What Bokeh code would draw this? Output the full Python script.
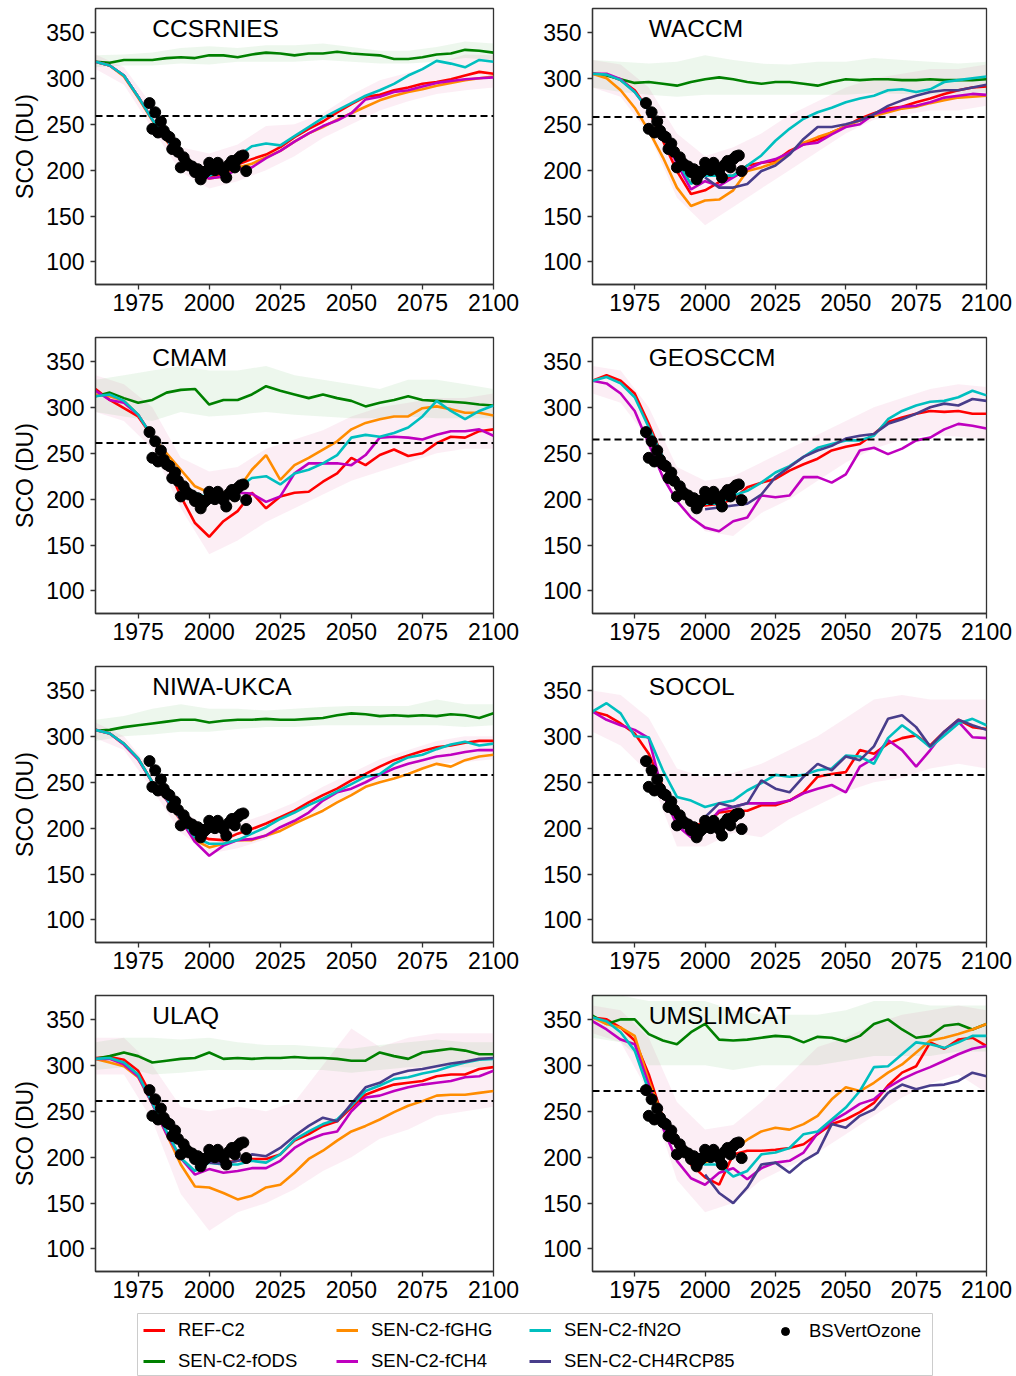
from bokeh.plotting import figure
from bokeh.models import Range1d, Span, Label, FixedTicker, Legend, LegendItem
from bokeh.layouts import column, row
from bokeh.embed import file_html
from bokeh.resources import INLINE

FONT = "Liberation Sans"

# ---------------- data ----------------
years = list(range(1960, 2101, 5))
years_rcp = list(range(2000, 2101, 5))
years_band = list(range(1960, 2101, 10))
x_ticks = [1975, 2000, 2025, 2050, 2075, 2100]
y_ticks = [100, 150, 200, 250, 300, 350]

series_names = ["REF-C2", "SEN-C2-fODS", "SEN-C2-fGHG", "SEN-C2-fCH4", "SEN-C2-fN2O", "SEN-C2-CH4RCP85"]
obs_name = "BSVertOzone"

models = ["CCSRNIES", "WACCM", "CMAM", "GEOSCCM", "NIWA-UKCA", "SOCOL", "ULAQ", "UMSLIMCAT"]
threshold_1980 = [259, 258, 261, 265, 258, 258, 261, 272]

obs_years = list(range(1979, 2014))
obs_sco = [273, 245, 263, 241, 253, 243, 238, 236, 223, 229, 220, 203, 214, 208, 205, 204, 198, 201,
           190, 196, 199, 208, 203, 200, 208, 203, 199, 192, 206, 210, 203, 212, 215, 216, 199]

ccsrnies_ref = [318, 314, 303, 280, 255, 234, 212, 197, 193, 195, 206, 212, 217, 225, 236, 245, 253, 263, 272, 280, 282, 287, 290, 294, 296, 299, 303, 307, 305]
ccsrnies_fods = [318, 317, 320, 320, 320, 322, 323, 322, 325, 325, 323, 326, 328, 327, 325, 327, 327, 329, 327, 326, 325, 321, 321, 323, 326, 327, 331, 330, 328]
ccsrnies_fghg = [318, 314, 302, 279, 254, 232, 211, 196, 191, 193, 203, 207, 214, 221, 231, 240, 247, 255, 262, 269, 276, 281, 285, 288, 292, 295, 298, 300, 302]
ccsrnies_fch4 = [318, 314, 303, 280, 255, 233, 211, 196, 191, 193, 201, 203, 213, 221, 231, 240, 248, 254, 262, 277, 280, 285, 287, 291, 295, 297, 299, 300, 301]
ccsrnies_fn2o = [318, 314, 303, 280, 255, 234, 212, 198, 194, 199, 215, 226, 229, 227, 237, 247, 257, 265, 273, 281, 287, 294, 303, 310, 319, 316, 312, 320, 318]
ccsrnies_band_lo = [310, 293, 245, 198, 180, 188, 200, 215, 235, 250, 265, 275, 283, 287, 290]
ccsrnies_band_hi = [326, 312, 270, 225, 218, 228, 248, 250, 262, 282, 298, 306, 316, 326, 325]
ccsrnies_fods_lo = [312, 314, 314, 316, 315, 318, 318, 318, 320, 318, 316, 316, 318, 322, 320]
ccsrnies_fods_hi = [325, 326, 328, 333, 335, 333, 336, 336, 338, 334, 330, 330, 334, 340, 338]

waccm_ref = [305, 304, 298, 287, 265, 232, 199, 174, 178, 187, 194, 205, 208, 210, 221, 228, 233, 241, 248, 256, 262, 267, 269, 274, 278, 283, 287, 290, 291]
waccm_fods = [305, 303, 299, 295, 296, 294, 292, 296, 299, 301, 299, 296, 294, 296, 296, 294, 292, 296, 299, 298, 299, 299, 298, 298, 299, 298, 298, 298, 299]
waccm_fghg = [305, 300, 287, 268, 243, 214, 181, 161, 167, 168, 178, 199, 203, 208, 219, 230, 236, 241, 248, 254, 259, 263, 267, 269, 273, 276, 279, 280, 281]
waccm_fch4 = [305, 305, 299, 285, 265, 239, 207, 179, 188, 183, 192, 201, 208, 212, 219, 228, 230, 239, 247, 250, 261, 265, 269, 270, 274, 279, 281, 283, 282]
waccm_fn2o = [305, 304, 298, 285, 265, 239, 210, 185, 194, 194, 194, 205, 216, 232, 245, 256, 263, 268, 274, 278, 281, 287, 288, 285, 288, 296, 298, 300, 302]
waccm_rcp = [192, 181, 181, 185, 199, 205, 217, 234, 247, 247, 250, 254, 261, 270, 276, 281, 285, 287, 287, 290, 293]
waccm_band_lo = [290, 280, 240, 170, 140, 160, 180, 200, 220, 240, 255, 260, 265, 265, 270]
waccm_band_hi = [320, 315, 290, 240, 215, 225, 240, 260, 275, 290, 300, 305, 310, 310, 315]
waccm_fods_lo = [290, 285, 282, 280, 282, 282, 282, 282, 282, 282, 284, 283, 282, 283, 285]
waccm_fods_hi = [320, 318, 316, 318, 325, 320, 316, 315, 318, 318, 322, 320, 318, 316, 318]

cmam_ref = [320, 308, 299, 290, 268, 239, 203, 174, 159, 176, 187, 207, 190, 203, 207, 208, 219, 228, 245, 237, 248, 254, 247, 250, 261, 268, 267, 274, 276]
cmam_fods = [312, 316, 310, 305, 308, 316, 319, 320, 303, 308, 308, 314, 323, 318, 314, 310, 314, 310, 307, 301, 305, 308, 312, 308, 307, 306, 305, 303, 302]
cmam_fghg = [314, 312, 307, 292, 268, 250, 232, 214, 207, 207, 210, 232, 248, 221, 237, 245, 254, 263, 276, 283, 287, 290, 290, 299, 301, 298, 294, 294, 291]
cmam_fch4 = [318, 308, 305, 292, 268, 239, 214, 205, 199, 199, 207, 206, 197, 203, 228, 239, 239, 239, 237, 248, 267, 268, 267, 265, 270, 274, 274, 276, 269]
cmam_fn2o = [312, 314, 307, 292, 268, 239, 217, 207, 201, 205, 212, 223, 225, 216, 228, 232, 239, 248, 267, 270, 268, 272, 278, 290, 307, 296, 287, 296, 302]
cmam_band_lo = [295, 285, 255, 190, 140, 155, 175, 190, 205, 220, 230, 240, 250, 255, 255]
cmam_band_hi = [335, 325, 300, 245, 230, 235, 255, 265, 275, 290, 300, 305, 310, 310, 315]
cmam_fods_lo = [295, 290, 285, 295, 290, 292, 295, 292, 290, 288, 288, 290, 288, 288, 288]
cmam_fods_hi = [330, 335, 340, 345, 340, 340, 345, 335, 330, 325, 320, 330, 330, 325, 320]

geosccm_ref = [329, 335, 329, 315, 282, 246, 216, 202, 193, 195, 200, 213, 218, 222, 231, 238, 244, 253, 257, 260, 271, 284, 289, 293, 296, 295, 296, 293, 293]
geosccm_fch4 = [329, 326, 315, 296, 260, 224, 198, 180, 169, 165, 176, 180, 204, 202, 204, 224, 224, 218, 227, 253, 256, 249, 255, 264, 267, 276, 282, 280, 277]
geosccm_fn2o = [329, 333, 326, 311, 278, 246, 220, 202, 195, 195, 204, 209, 218, 229, 236, 246, 256, 260, 264, 264, 269, 287, 296, 302, 306, 307, 311, 318, 313]
geosccm_rcp = [189, 191, 193, 195, 205, 224, 235, 246, 253, 258, 266, 269, 271, 282, 287, 293, 300, 304, 302, 309, 307]
geosccm_band_lo = [315, 305, 265, 195, 165, 160, 185, 200, 220, 240, 255, 265, 270, 268, 265]
geosccm_band_hi = [345, 340, 300, 235, 220, 225, 240, 255, 270, 285, 300, 310, 320, 325, 322]

niwa_ref = [307, 303, 292, 276, 250, 232, 210, 194, 188, 187, 194, 199, 205, 212, 219, 228, 236, 243, 252, 259, 267, 274, 279, 284, 288, 290, 293, 295, 295]
niwa_fods = [306, 307, 310, 312, 314, 316, 318, 318, 315, 317, 318, 318, 319, 318, 318, 319, 320, 323, 325, 324, 322, 323, 322, 323, 322, 324, 323, 320, 325]
niwa_fghg = [307, 303, 291, 275, 250, 231, 208, 187, 179, 183, 187, 187, 192, 197, 205, 212, 219, 228, 236, 245, 250, 254, 259, 265, 270, 267, 274, 278, 280]
niwa_fch4 = [307, 303, 291, 275, 250, 231, 209, 185, 170, 181, 187, 188, 192, 201, 208, 217, 230, 239, 243, 250, 258, 265, 270, 274, 278, 280, 283, 285, 285]
niwa_fn2o = [307, 303, 292, 276, 250, 232, 210, 190, 183, 183, 187, 194, 201, 210, 217, 225, 232, 240, 248, 256, 259, 270, 277, 280, 286, 291, 294, 290, 292]
niwa_band_lo = [298, 285, 242, 195, 172, 178, 188, 205, 222, 238, 252, 262, 270, 272, 275]
niwa_band_hi = [315, 300, 262, 220, 200, 205, 215, 228, 245, 260, 275, 285, 295, 300, 300]
niwa_fods_lo = [295, 300, 302, 305, 305, 308, 310, 310, 312, 312, 312, 312, 312, 310, 312]
niwa_fods_hi = [318, 322, 330, 335, 330, 330, 328, 330, 332, 333, 333, 333, 340, 335, 335]

socol_ref = [327, 323, 314, 303, 281, 245, 212, 203, 205, 217, 219, 219, 225, 225, 230, 239, 256, 259, 261, 285, 281, 292, 298, 301, 290, 305, 318, 310, 308]
socol_fch4 = [327, 318, 312, 307, 298, 238, 203, 190, 201, 219, 223, 227, 227, 227, 230, 238, 243, 247, 239, 267, 276, 296, 285, 267, 285, 305, 316, 299, 298]
socol_fn2o = [327, 336, 325, 300, 299, 263, 234, 230, 223, 227, 230, 241, 249, 258, 256, 258, 263, 265, 279, 278, 270, 298, 312, 301, 288, 301, 314, 319, 312]
socol_rcp = [212, 227, 223, 227, 252, 243, 239, 256, 270, 263, 278, 274, 289, 319, 323, 310, 289, 305, 318, 312, 307]
socol_band_lo = [305, 290, 260, 180, 180, 195, 190, 210, 225, 240, 250, 255, 265, 270, 265]
socol_band_hi = [350, 345, 320, 265, 255, 260, 270, 285, 300, 320, 340, 345, 340, 340, 340]

ulaq_ref = [308, 309, 306, 294, 265, 236, 214, 196, 196, 194, 196, 198, 198, 203, 218, 225, 234, 239, 254, 268, 274, 279, 281, 283, 288, 290, 290, 296, 298]
ulaq_fods = [307, 310, 314, 310, 303, 305, 307, 308, 314, 307, 308, 307, 308, 308, 309, 308, 308, 307, 305, 305, 314, 310, 307, 314, 316, 318, 316, 312, 312]
ulaq_fghg = [307, 303, 299, 287, 258, 225, 192, 168, 167, 161, 154, 158, 167, 170, 183, 198, 207, 218, 228, 234, 241, 249, 256, 261, 267, 268, 268, 270, 272]
ulaq_fch4 = [307, 307, 301, 288, 258, 225, 199, 181, 187, 183, 185, 188, 188, 196, 210, 219, 225, 228, 250, 265, 267, 272, 276, 279, 281, 283, 287, 288, 294]
ulaq_fn2o = [307, 308, 303, 290, 259, 228, 199, 185, 194, 192, 192, 196, 194, 203, 219, 228, 236, 241, 256, 272, 278, 285, 287, 291, 294, 299, 303, 306, 307]
ulaq_rcp = [194, 193, 196, 203, 201, 210, 223, 234, 243, 239, 258, 276, 281, 290, 294, 296, 299, 302, 304, 307, 308]
ulaq_band_lo = [290, 290, 240, 160, 120, 140, 150, 165, 185, 200, 220, 230, 245, 250, 255]
ulaq_band_hi = [330, 330, 300, 255, 250, 255, 250, 260, 300, 340, 320, 330, 335, 335, 335]
ulaq_fods_lo = [295, 298, 290, 292, 295, 295, 295, 295, 295, 292, 295, 298, 298, 298, 298]
ulaq_fods_hi = [325, 330, 330, 328, 330, 325, 322, 322, 320, 318, 322, 325, 328, 325, 325]

umslimcat_ref = [352, 350, 341, 327, 290, 243, 214, 192, 178, 170, 203, 207, 207, 208, 210, 214, 225, 236, 241, 249, 259, 278, 292, 299, 325, 318, 328, 330, 321]
umslimcat_fods = [354, 345, 350, 350, 334, 327, 323, 336, 345, 328, 327, 328, 330, 332, 331, 325, 331, 330, 326, 332, 345, 350, 339, 330, 332, 343, 345, 339, 345]
umslimcat_fghg = [352, 345, 341, 332, 283, 243, 214, 197, 194, 203, 208, 219, 228, 232, 230, 236, 245, 263, 276, 272, 281, 292, 301, 314, 327, 330, 334, 339, 345]
umslimcat_fch4 = [348, 339, 328, 323, 279, 232, 196, 177, 170, 183, 188, 176, 188, 194, 196, 205, 226, 239, 248, 258, 263, 276, 285, 292, 298, 305, 312, 318, 321]
umslimcat_fn2o = [352, 348, 336, 316, 272, 236, 214, 196, 192, 192, 179, 185, 203, 205, 210, 225, 228, 241, 254, 272, 298, 299, 312, 325, 323, 319, 325, 332, 332]
umslimcat_rcp = [181, 161, 150, 167, 192, 194, 183, 196, 205, 236, 232, 245, 252, 270, 279, 274, 278, 279, 283, 292, 288]
umslimcat_band_lo = [335, 325, 270, 175, 140, 150, 175, 190, 205, 225, 245, 265, 280, 290, 270]
umslimcat_band_hi = [365, 360, 330, 260, 230, 235, 260, 290, 320, 330, 345, 355, 360, 365, 360]
umslimcat_fods_lo = [330, 325, 300, 300, 300, 295, 300, 300, 300, 305, 310, 310, 310, 315, 315]
umslimcat_fods_hi = [376, 376, 370, 370, 370, 360, 355, 355, 355, 360, 370, 370, 365, 365, 365]

panel_series = [
    {"REF-C2": ccsrnies_ref, "SEN-C2-fODS": ccsrnies_fods, "SEN-C2-fGHG": ccsrnies_fghg,
     "SEN-C2-fCH4": ccsrnies_fch4, "SEN-C2-fN2O": ccsrnies_fn2o},
    {"REF-C2": waccm_ref, "SEN-C2-fODS": waccm_fods, "SEN-C2-fGHG": waccm_fghg,
     "SEN-C2-fCH4": waccm_fch4, "SEN-C2-fN2O": waccm_fn2o, "SEN-C2-CH4RCP85": waccm_rcp},
    {"REF-C2": cmam_ref, "SEN-C2-fODS": cmam_fods, "SEN-C2-fGHG": cmam_fghg,
     "SEN-C2-fCH4": cmam_fch4, "SEN-C2-fN2O": cmam_fn2o},
    {"REF-C2": geosccm_ref, "SEN-C2-fCH4": geosccm_fch4, "SEN-C2-fN2O": geosccm_fn2o,
     "SEN-C2-CH4RCP85": geosccm_rcp},
    {"REF-C2": niwa_ref, "SEN-C2-fODS": niwa_fods, "SEN-C2-fGHG": niwa_fghg,
     "SEN-C2-fCH4": niwa_fch4, "SEN-C2-fN2O": niwa_fn2o},
    {"REF-C2": socol_ref, "SEN-C2-fCH4": socol_fch4, "SEN-C2-fN2O": socol_fn2o,
     "SEN-C2-CH4RCP85": socol_rcp},
    {"REF-C2": ulaq_ref, "SEN-C2-fODS": ulaq_fods, "SEN-C2-fGHG": ulaq_fghg,
     "SEN-C2-fCH4": ulaq_fch4, "SEN-C2-fN2O": ulaq_fn2o, "SEN-C2-CH4RCP85": ulaq_rcp},
    {"REF-C2": umslimcat_ref, "SEN-C2-fODS": umslimcat_fods, "SEN-C2-fGHG": umslimcat_fghg,
     "SEN-C2-fCH4": umslimcat_fch4, "SEN-C2-fN2O": umslimcat_fn2o, "SEN-C2-CH4RCP85": umslimcat_rcp},
]

panel_bands = [
    (ccsrnies_band_lo, ccsrnies_band_hi, ccsrnies_fods_lo, ccsrnies_fods_hi),
    (waccm_band_lo, waccm_band_hi, waccm_fods_lo, waccm_fods_hi),
    (cmam_band_lo, cmam_band_hi, cmam_fods_lo, cmam_fods_hi),
    (geosccm_band_lo, geosccm_band_hi, None, None),
    (niwa_band_lo, niwa_band_hi, niwa_fods_lo, niwa_fods_hi),
    (socol_band_lo, socol_band_hi, None, None),
    (ulaq_band_lo, ulaq_band_hi, ulaq_fods_lo, ulaq_fods_hi),
    (umslimcat_band_lo, umslimcat_band_hi, umslimcat_fods_lo, umslimcat_fods_hi),
]

colors = {
    "REF-C2": "#ff0000",
    "SEN-C2-fODS": "#008000",
    "SEN-C2-fGHG": "#ff8c00",
    "SEN-C2-fCH4": "#bf00bf",
    "SEN-C2-fN2O": "#00bfbf",
    "SEN-C2-CH4RCP85": "#483d8b",
}

AX = "#333333"


def make_panel(i):
    left = (i % 2 == 0)
    last = (i >= 6)
    p = figure(width=540 if left else 476, height=320 if last else 329,
               x_range=Range1d(1960, 2100), y_range=Range1d(75.5, 376),
               toolbar_location=None, output_backend="svg",
               min_border_left=95 if left else 48, min_border_right=47 if left else 30,
               min_border_top=8, min_border_bottom=36 if last else 45,
               background_fill_color="white", border_fill_color="white")
    p.xgrid.visible = False
    p.ygrid.visible = False
    p.outline_line_color = AX
    p.outline_line_width = 1.3
    blo, bhi, flo, fhi = panel_bands[i]
    p.varea(x=years_band, y1=blo, y2=bhi, fill_color="#e87fb0", fill_alpha=0.13)
    if flo is not None:
        p.varea(x=years_band, y1=flo, y2=fhi, fill_color="#5cb85c", fill_alpha=0.11)
    s = panel_series[i]
    for key in series_names:
        if key not in s:
            continue
        xs = years_rcp if key == "SEN-C2-CH4RCP85" else years
        p.line(xs, s[key], line_color=colors[key], line_width=2.6)
    p.add_layout(Span(location=threshold_1980[i], dimension="width", line_color="black",
                      line_width=2, line_dash="7 4"))
    p.scatter(obs_years, obs_sco, size=11, color="black")
    p.add_layout(Label(x=1980, y=354, text=models[i], text_font=FONT, text_font_size="24.5px",
                       text_color="black", text_baseline="alphabetic"))
    p.xaxis.ticker = FixedTicker(ticks=x_ticks)
    p.yaxis.ticker = FixedTicker(ticks=y_ticks)
    for ax in p.axis:
        ax.major_label_text_font = FONT
        ax.major_label_text_font_size = "23px"
        ax.major_label_text_color = "black"
        ax.axis_line_color = AX
        ax.axis_line_width = 1.3
        ax.major_tick_line_color = AX
        ax.major_tick_line_width = 1.3
        ax.major_tick_out = 5
        ax.major_tick_in = 0
        ax.minor_tick_line_color = None
        ax.major_label_standoff = 4
    p.yaxis.major_label_standoff = 6
    if left:
        p.yaxis.axis_label = "SCO (DU)"
        p.yaxis.axis_label_text_font = FONT
        p.yaxis.axis_label_text_font_size = "23px"
        p.yaxis.axis_label_text_font_style = "normal"
        p.yaxis.axis_label_text_color = "black"
        p.yaxis.axis_label_standoff = 5
    return p


panels = [make_panel(i) for i in range(8)]

# legend strip: the figure frame is the legend box
lf = figure(width=1016, height=69, toolbar_location=None, output_backend="svg",
            x_range=Range1d(0, 1), y_range=Range1d(0, 1),
            min_border_left=137, min_border_right=84, min_border_top=6, min_border_bottom=0,
            x_axis_location=None, y_axis_location=None)
lf.outline_line_color = "#cccccc"
lf.outline_line_width = 1
lf.xgrid.visible = False
lf.ygrid.visible = False
nan = float("nan")
items = []
for key in series_names:
    r = lf.line(x=[nan], y=[nan], line_color=colors[key], line_width=3)
    items.append(LegendItem(label=key, renderers=[r]))
r_obs = lf.scatter(x=[nan], y=[nan], size=8, color="black")

common = dict(border_line_color=None, background_fill_alpha=0, padding=6, spacing=9, margin=0,
              glyph_width=22, glyph_height=20, label_standoff=13, label_height=20,
              label_text_font=FONT, label_text_font_size="18.5px", label_text_color="black")
leg_a = Legend(items=items, location=(6, 4), orientation="vertical", nrows=2,
               label_width=149, **common)
leg_b = Legend(items=[LegendItem(label=obs_name, renderers=[r_obs])], location=(637, 34),
               **common)
lf.add_layout(leg_a, "center")
lf.add_layout(leg_b, "center")

layout = column(row(panels[0], panels[1]), row(panels[2], panels[3]),
                row(panels[4], panels[5]), row(panels[6], panels[7]), lf)

open("out.html", "w").write(file_html(layout, INLINE))
